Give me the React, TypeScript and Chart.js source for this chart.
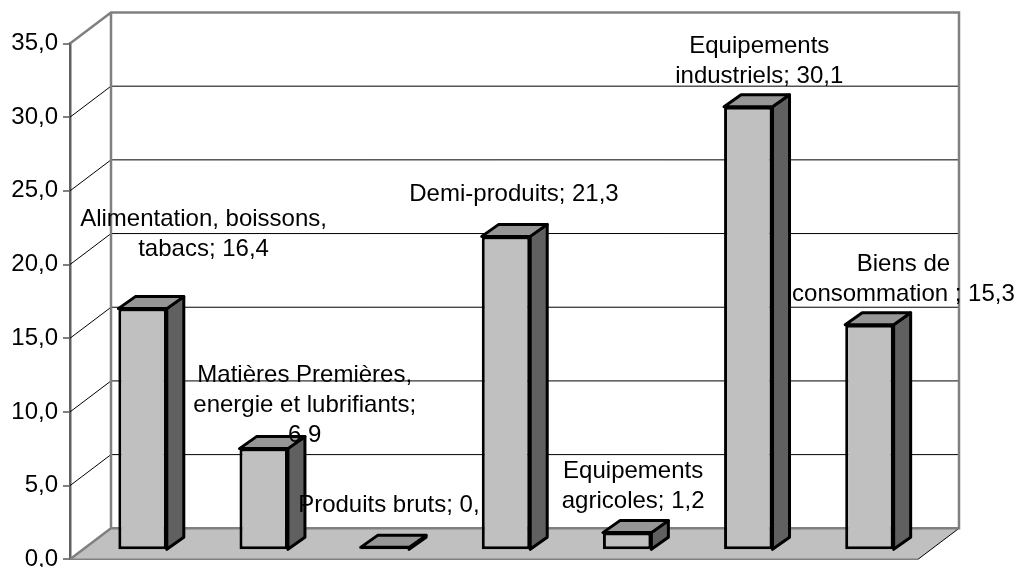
import React, { useEffect, useRef } from "react";
import { Chart, registerables } from "chart.js";

Chart.register(...registerables);

const categories = [
  "Alimentation, boissons, tabacs",
  "Matières Premières, energie et lubrifiants",
  "Produits bruts",
  "Demi-produits",
  "Equipements agricoles",
  "Equipements industriels",
  "Biens de consommation",
];
const values = [16.4, 6.9, 0.2, 21.3, 1.2, 30.1, 15.3];
const labelLines = [
  ["Alimentation, boissons,", "tabacs; 16,4"],
  ["Matières Premières,", "energie et lubrifiants;", "6,9"],
  ["Produits bruts; 0,"],
  ["Demi-produits; 21,3"],
  ["Equipements", "agricoles; 1,2"],
  ["Equipements", "industriels; 30,1"],
  ["Biens de", "consommation ; 15,3"],
];
const labelShiftX = [61, 41, 4, 8, 6, 11, 34];
const labelShiftY = [-89, -73, -41.5, -42, -61, -60, -60];

const FONT = "Liberation Sans, Arial, sans-serif";
const FONT_SIZE = 24;
const WALL_DX = 41;
const WALL_DY = 31;
const BAR_SHIFT_X = 12;
const BAR_SHIFT_Y = 9;
const BAR_DX = 17;
const BAR_DY = 12;
const WALL = "#808080";
const BAR_LINE = 3;

const scene = {
  id: "scene",
  beforeDatasetsDraw(chart: any) {
    const { ctx, chartArea: a, scales } = chart;
    const y = scales.y;
    const bx = a.left + WALL_DX;
    const rx = a.right + WALL_DX;
    const by = a.bottom - WALL_DY;
    ctx.save();
    ctx.fillStyle = "#C0C0C0";
    ctx.beginPath();
    ctx.moveTo(a.left, a.bottom);
    ctx.lineTo(bx, by);
    ctx.lineTo(rx, by);
    ctx.lineTo(a.right, a.bottom);
    ctx.closePath();
    ctx.fill();

    ctx.lineWidth = 1;
    ctx.strokeStyle = "#000";
    for (const t of y.ticks) {
      if (t.value === 0 || t.value === 35) continue;
      const py = y.getPixelForValue(t.value);
      ctx.beginPath();
      ctx.moveTo(a.left, py);
      ctx.lineTo(bx, py - WALL_DY);
      ctx.lineTo(rx, py - WALL_DY);
      ctx.stroke();
    }

    ctx.beginPath();
    ctx.moveTo(a.right, a.bottom);
    ctx.lineTo(rx, by);
    ctx.stroke();

    ctx.strokeStyle = WALL;
    ctx.lineWidth = 2.5;
    ctx.beginPath();
    ctx.moveTo(a.left, a.top);
    ctx.lineTo(bx, a.top - WALL_DY);
    ctx.lineTo(rx, a.top - WALL_DY);
    ctx.lineTo(rx, by);
    ctx.lineTo(bx, by);
    ctx.lineTo(a.left, a.bottom);
    ctx.moveTo(bx, a.top - WALL_DY);
    ctx.lineTo(bx, by);
    ctx.stroke();

    ctx.lineWidth = 1.5;
    ctx.beginPath();
    ctx.moveTo(a.left, a.bottom);
    ctx.lineTo(a.right, a.bottom);
    ctx.stroke();
    ctx.restore();

    ctx.save();
    ctx.translate(BAR_SHIFT_X, -BAR_SHIFT_Y);
  },
  afterDatasetsDraw(chart: any) {
    const { ctx } = chart;
    const bars = chart.getDatasetMeta(0).data;
    ctx.lineWidth = BAR_LINE;
    ctx.strokeStyle = "#000";
    ctx.lineJoin = "round";
    for (const b of bars) {
      const l = b.x - b.width / 2;
      const r = b.x + b.width / 2;
      const t = b.y;
      const bot = b.base;
      ctx.fillStyle = "#606060";
      ctx.beginPath();
      ctx.moveTo(r, t);
      ctx.lineTo(r + BAR_DX, t - BAR_DY);
      ctx.lineTo(r + BAR_DX, bot - BAR_DY);
      ctx.lineTo(r, bot);
      ctx.closePath();
      ctx.fill();
      ctx.stroke();
      ctx.fillStyle = "#969696";
      ctx.beginPath();
      ctx.moveTo(l, t);
      ctx.lineTo(l + BAR_DX, t - BAR_DY);
      ctx.lineTo(r + BAR_DX, t - BAR_DY);
      ctx.lineTo(r, t);
      ctx.closePath();
      ctx.fill();
      ctx.stroke();
    }
    ctx.restore();

    ctx.save();
    ctx.fillStyle = "#000";
    ctx.font = `${FONT_SIZE}px ${FONT}`;
    ctx.textAlign = "center";
    ctx.textBaseline = "middle";
    bars.forEach((b: any, i: number) => {
      const cx = b.x + BAR_SHIFT_X + labelShiftX[i];
      const top = b.y - BAR_SHIFT_Y + labelShiftY[i];
      labelLines[i].forEach((line, k) => ctx.fillText(line, cx, top + k * 30));
    });
    ctx.restore();
  },
};

export default function App() {
  const ref = useRef<HTMLCanvasElement>(null);
  useEffect(() => {
    const chart = new Chart(ref.current as HTMLCanvasElement, {
      type: "bar",
      data: {
        labels: categories,
        datasets: [
          {
            data: values,
            backgroundColor: "#C0C0C0",
            borderColor: "#000",
            borderWidth: BAR_LINE,
            borderSkipped: false,
            categoryPercentage: 1,
            barPercentage: 0.4,
            clip: false,
          } as any,
        ],
      },
      options: {
        responsive: false,
        animation: false,
        layout: { padding: { top: 43.5, left: 0, right: 100, bottom: 7.7 } },
        plugins: { legend: { display: false }, tooltip: { enabled: false } },
        scales: {
          x: { display: false },
          y: {
            min: 0,
            max: 35,
            ticks: {
              stepSize: 5,
              color: "#000",
              padding: 5,
              font: { family: FONT, size: FONT_SIZE },
              callback: (v: any) => Number(v).toFixed(1).replace(".", ","),
            },
            grid: { drawOnChartArea: false, drawTicks: true, tickLength: 7, color: WALL, lineWidth: 2 },
            border: { display: true, color: "#606060", width: 2.5 },
            afterFit: (s: any) => {
              s.width = 70;
              s.paddingTop = 0;
              s.paddingBottom = 0;
            },
          },
        },
      },
      plugins: [scene],
    } as any);
    return () => chart.destroy();
  }, []);
  return (
    <div style={{ position: "fixed", left: 0, top: 0, width: 1018, height: 567, background: "#fff" }}>
      <canvas ref={ref} width={1018} height={567} style={{ display: "block" }} />
    </div>
  );
}
